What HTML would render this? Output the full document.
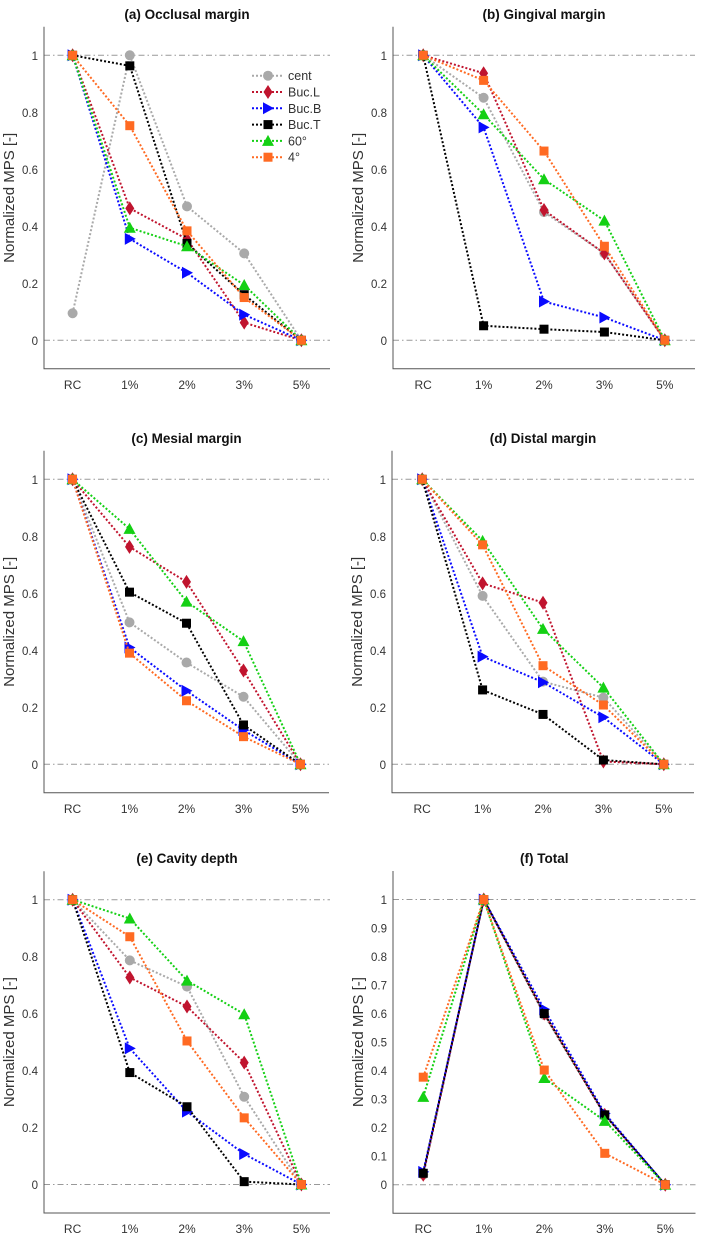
<!DOCTYPE html>
<html><head><meta charset="utf-8"><style>
html,body{margin:0;padding:0;background:#fff;}
svg{display:block;font-family:"Liberation Sans",Arial,sans-serif;}
</style></head><body>
<svg id="fig" width="707" height="1243" viewBox="0 0 707 1243" xmlns="http://www.w3.org/2000/svg"></svg>
<script>
const categories = ["RC","1%","2%","3%","5%"];
const seriesNames = ["cent","Buc.L","Buc.B","Buc.T","60°","4°"];
const panelTitles = ["(a) Occlusal margin","(b) Gingival margin","(c) Mesial margin","(d) Distal margin","(e) Cavity depth","(f) Total"];
const yTicksA = [0,0.2,0.4,0.6,0.8,1];
const yTicksF = [0,0.1,0.2,0.3,0.4,0.5,0.6,0.7,0.8,0.9,1];
// values per panel, per series (cent, Buc.L, Buc.B, Buc.T, 60°, 4°)
const dataA = [[0.095,1,0.47,0.305,0],[1,0.463,0.355,0.062,0],[1,0.356,0.237,0.09,0],[1,0.963,0.34,0.16,0],[1,0.395,0.33,0.194,0],[1,0.753,0.384,0.15,0]];
const dataB = [[1,0.851,0.45,0.305,0],[1,0.937,0.457,0.305,0],[1,0.747,0.136,0.08,0],[1,0.051,0.039,0.029,0],[1,0.793,0.565,0.42,0],[1,0.912,0.664,0.33,0]];
const dataC = [[1,0.498,0.357,0.237,0],[1,0.763,0.64,0.329,0],[1,0.41,0.258,0.12,0],[1,0.604,0.495,0.138,0],[1,0.826,0.571,0.432,0],[1,0.39,0.223,0.097,0]];
const dataD = [[1,0.591,0.29,0.234,0],[1,0.635,0.567,0.01,0],[1,0.378,0.288,0.165,0],[1,0.261,0.175,0.015,0],[1,0.784,0.475,0.269,0],[1,0.77,0.346,0.208,0]];
const dataE = [[1,0.787,0.695,0.308,0],[1,0.727,0.625,0.428,0],[1,0.478,0.256,0.107,0],[1,0.393,0.273,0.01,0],[1,0.934,0.716,0.598,0],[1,0.87,0.504,0.234,0]];
const dataF = [[0.035,1,0.595,0.245,0],[0.035,1,0.6,0.245,0],[0.045,1,0.615,0.25,0],[0.04,1,0.6,0.245,0],[0.308,1,0.374,0.224,0],[0.377,1,0.402,0.11,0]];

const colors = ["#a9a9a9","#c0142e","#0a0aff","#000000","#14d014","#ff6a22"];
const markers = ["circle","diamond","triangleRight","square","triangleUp","square"];
const NS = "http://www.w3.org/2000/svg";
const svg = document.getElementById("fig");
function mk(tag, attrs, parent){const e=document.createElementNS(NS,tag);for(const k in attrs)e.setAttribute(k,attrs[k]);(parent||svg).appendChild(e);return e;}

const panels = [
 {d:dataA,ticks:yTicksA,l:44,r:330,y0:340.3,y1:55.3,legend:true},
 {d:dataB,ticks:yTicksA,l:393,r:695,y0:340.3,y1:55.3},
 {d:dataC,ticks:yTicksA,l:44,r:329,y0:764.3,y1:479.3},
 {d:dataD,ticks:yTicksA,l:392,r:694,y0:764.3,y1:479.3},
 {d:dataE,ticks:yTicksA,l:44,r:330,y0:1184.5,y1:899.7},
 {d:dataF,ticks:yTicksF,l:393,r:695.5,y0:1184.7,y1:899.5}
];

function marker(g, type, x, y, c){
  let e;
  if(type==="circle") e=mk("circle",{cx:x,cy:y,r:5,fill:c},g);
  else if(type==="square") e=mk("rect",{x:x-4.5,y:y-4.5,width:9,height:9,fill:c},g);
  else if(type==="diamond") e=mk("polygon",{points:`${x},${y-7} ${x+4.5},${y} ${x},${y+7} ${x-4.5},${y}`,fill:c},g);
  else if(type==="triangleRight") e=mk("polygon",{points:`${x-5},${y-6} ${x+6},${y} ${x-5},${y+6}`,fill:c},g);
  else e=mk("polygon",{points:`${x},${y-6} ${x+6},${y+5} ${x-6},${y+5}`,fill:c},g);
  return e;
}

panels.forEach((p,pi)=>{
  const g = mk("g",{});
  
  
  const sx = v => p.l + (v-0.5)*(p.r-p.l)/5;
  const sy = v => p.y0 - v*(p.y0-p.y1);
  const top = sy(1.1), bot = sy(-0.1);
  const t = mk("text",{x:(p.l+p.r)/2,y:top-8,"text-anchor":"middle","font-size":"13.5","font-weight":"bold",fill:"#111"},g);
  t.textContent = panelTitles[pi];
  
  
  [0,1].forEach(v=>{
    const ln = mk("line",{x1:p.l,x2:p.r,y1:sy(v),y2:sy(v),stroke:"#999",'stroke-width':1,'stroke-dasharray':"6 3 1.5 3"},g);
    
    
  });
  const ax = mk("path",{d:`M${p.l},${top}V${bot}H${p.r}`,fill:"none",stroke:"#555",'stroke-width':1},g);
  
  
  p.ticks.forEach(v=>{
    const tl = mk("text",{x:p.l-6,y:sy(v)+4.5,"text-anchor":"end","font-size":"11.5",fill:"#333"},g);
    tl.textContent = String(v);
    
    
  });
  categories.forEach((c,i)=>{
    const tl = mk("text",{x:sx(i+1),y:bot+20,"text-anchor":"middle","font-size":"12",fill:"#333"},g);
    tl.textContent = c;
    
    
  });
  const yl = mk("text",{x:0,y:0,"text-anchor":"middle","font-size":"15",fill:"#333",transform:`translate(${p.l-30},${(top+bot)/2}) rotate(-90)`},g);
  yl.textContent = "Normalized MPS [-]";
  
  
  p.d.forEach((vals,si)=>{
    const pts = vals.map((v,i)=>`${sx(i+1)},${sy(v)}`).join(" ");
    const pl = mk("polyline",{points:pts,fill:"none",stroke:colors[si],'stroke-width':2,'stroke-dasharray':"2 2"},g);
    
    
    vals.forEach((v,i)=>{
      const m = marker(g,markers[si],sx(i+1),sy(v),colors[si]);
      
      
    });
  });
  if(p.legend){
    const lg = mk("g",{},g);
    
    
    seriesNames.forEach((n,si)=>{
      const y = 75.7 + si*16.3;
      const e = mk("g",{},lg);
      
      
      mk("line",{x1:252,x2:284,y1:y,y2:y,stroke:colors[si],'stroke-width':2,'stroke-dasharray':"2 2"},e);
      marker(e,markers[si],268,y,colors[si]);
      const tx = mk("text",{x:288,y:y+4.5,"font-size":"12.5",fill:"#333"},e);
      tx.textContent = n;
    });
  }
});
</script>
</body></html>
